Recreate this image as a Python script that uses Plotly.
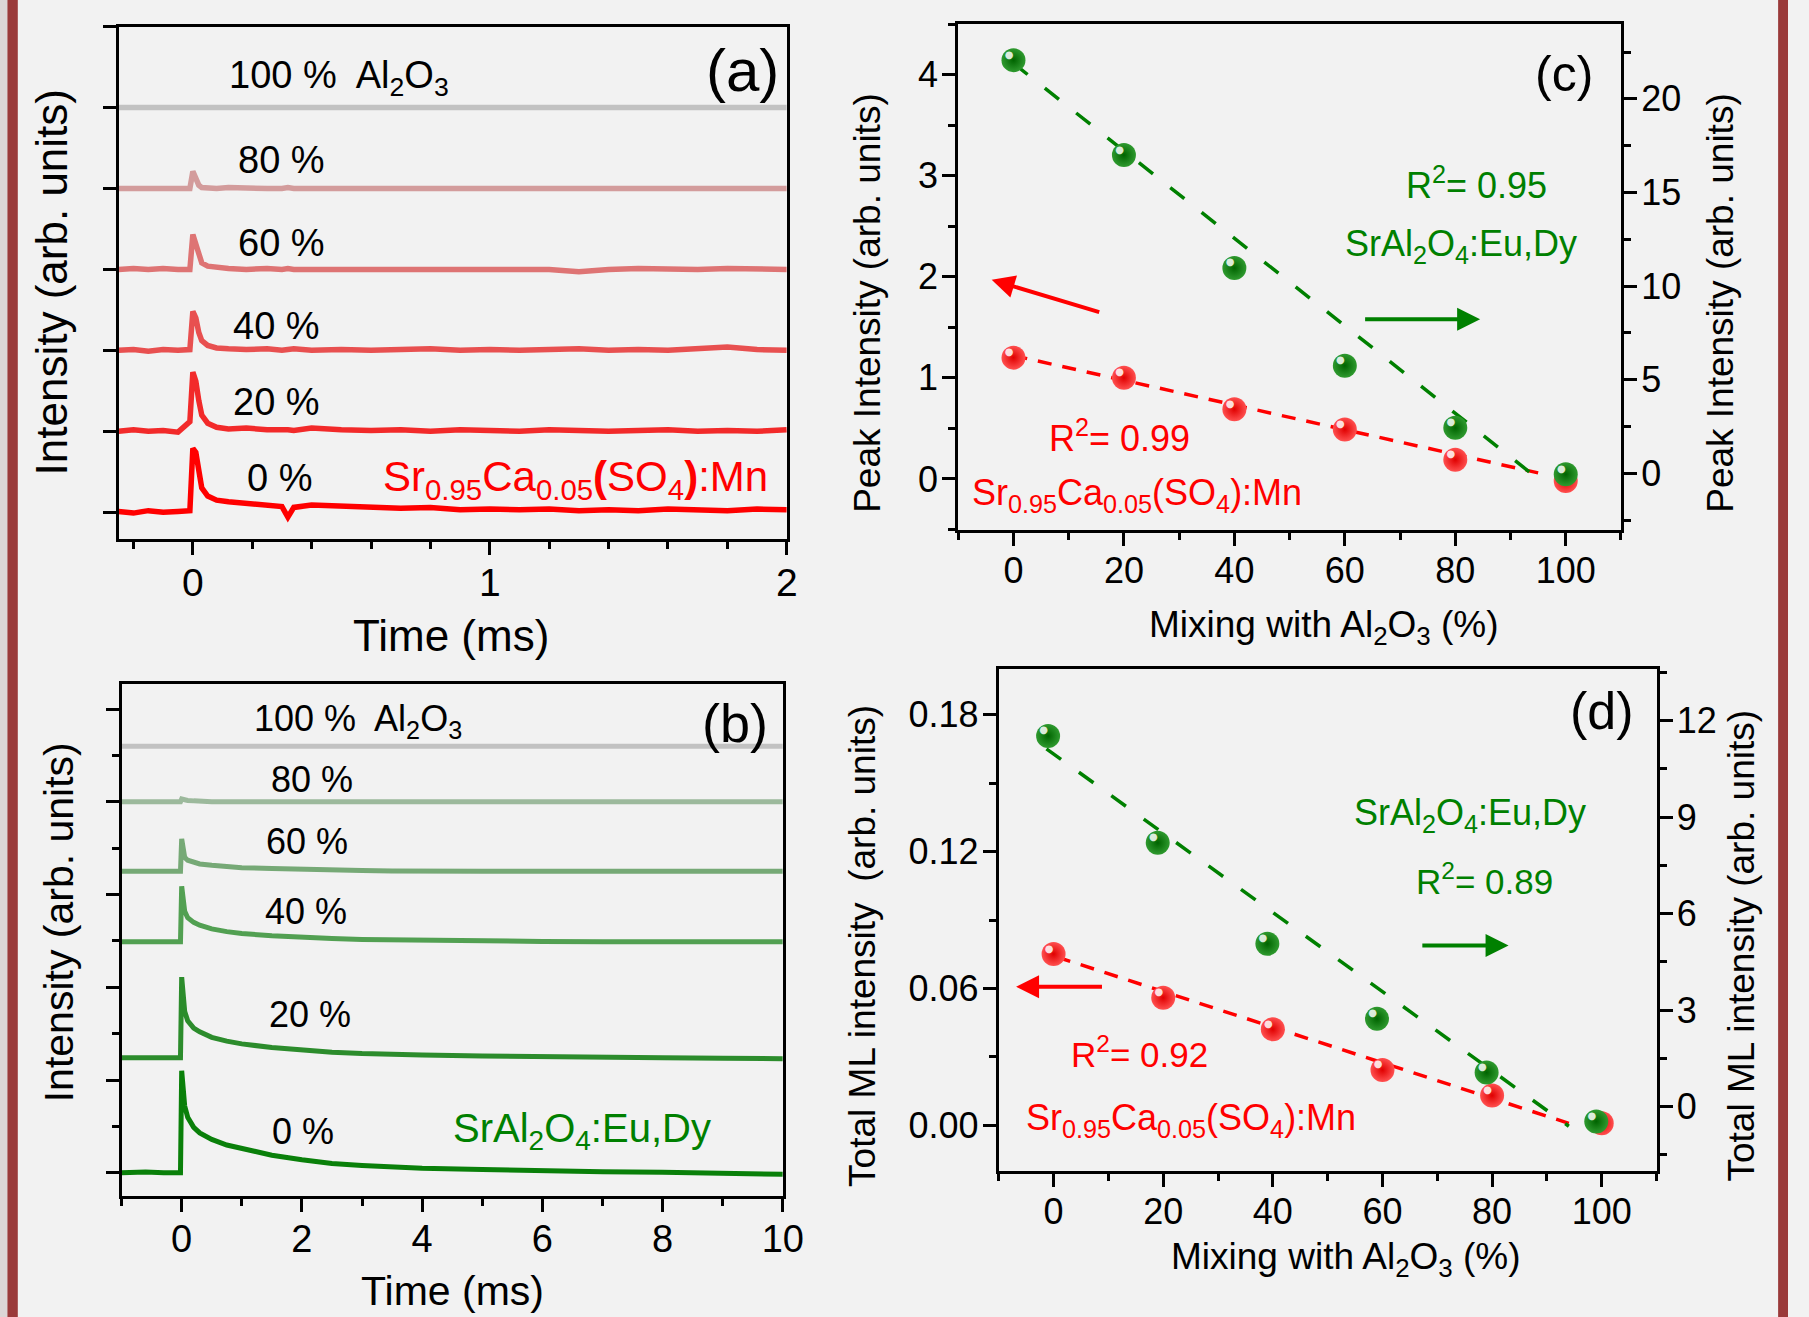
import plotly.graph_objects as go

W, H = 1809, 1317
FONT = "Liberation Sans, Arial, Helvetica, sans-serif"
BG = "#f2f2f2"

# ---------------- panel (a): Sr0.95Ca0.05(SO4):Mn time traces ----------------
a_time = [-0.25, -0.2, -0.15, -0.1, -0.05, -0.01, 0.0, 0.01, 0.02, 0.03, 0.05, 0.08,
          0.12, 0.18, 0.25, 0.3, 0.32, 0.34, 0.4, 0.5, 0.6, 0.7, 0.8, 0.9, 1.0, 1.1,
          1.2, 1.3, 1.4, 1.5, 1.6, 1.7, 1.8, 1.9, 2.0]
a_names = ["0 %", "20 %", "40 %", "60 %", "80 %", "100 %\u00a0 Al<sub>2</sub>O<sub>3</sub>"]
a_offsets = [0, 1, 2, 3, 4, 5]
a_0 = [0.01, -0.01, 0.02, 0.0, 0.01, 0.02, 0.79, 0.74, 0.52, 0.3, 0.2, 0.15, 0.13, 0.11,
       0.1, 0.07, -0.06, 0.06, 0.09, 0.08, 0.06, 0.05, 0.06, 0.03, 0.04, 0.03, 0.04, 0.02,
       0.03, 0.02, 0.04, 0.03, 0.02, 0.04, 0.03]
a_20 = [0.0, 0.02, 0.0, 0.01, -0.01, 0.12, 0.73, 0.62, 0.38, 0.2, 0.1, 0.05, 0.03, 0.04,
        0.02, 0.03, 0.02, 0.01, 0.04, 0.02, 0.01, 0.02, 0.0, 0.02, 0.01, 0.0, 0.02, 0.01,
        0.0, 0.01, 0.02, 0.0, 0.01, 0.0, 0.02]
a_40 = [0.0, 0.01, -0.01, 0.01, 0.0, 0.01, 0.48, 0.4, 0.22, 0.12, 0.06, 0.03, 0.02, 0.01,
        0.02, 0.0, 0.01, 0.02, 0.0, 0.01, 0.0, 0.01, 0.02, 0.0, 0.01, 0.0, 0.01, 0.02, 0.0,
        0.01, 0.0, 0.02, 0.04, 0.01, 0.0]
a_60 = [0.0, 0.01, 0.0, 0.01, 0.0, 0.0, 0.43, 0.3, 0.15, 0.08, 0.04, 0.02, 0.01, 0.0, 0.01,
        0.0, 0.01, 0.0, 0.0, 0.01, 0.0, 0.01, 0.0, 0.0, 0.01, 0.0, 0.0, -0.03, 0.0, 0.01,
        0.0, 0.0, 0.01, 0.0, 0.0]
a_80 = [0.0, 0.0, 0.01, 0.0, 0.0, 0.0, 0.21, 0.12, 0.04, 0.01, 0.0, 0.0, 0.01, 0.0, 0.0,
        0.0, 0.01, 0.0, 0.0, 0.0, 0.01, 0.0, 0.0, 0.0, 0.0, 0.0, 0.01, 0.0, 0.0, 0.0, 0.0,
        0.0, 0.0, 0.0, 0.0]
a_100 = [0.0, 0.0, 0.0, 0.01, 0.0, 0.0, 0.0, 0.0, 0.0, 0.0, 0.0, 0.0, 0.0, 0.0, 0.0, 0.0,
         0.0, 0.0, 0.0, 0.0, 0.0, 0.01, 0.0, 0.0, 0.0, 0.0, 0.0, 0.0, 0.0, 0.0, 0.0, 0.0,
         0.0, 0.0, 0.0]
a_curves = [a_0, a_20, a_40, a_60, a_80, a_100]
a_colors = ["#ff0000", "#f22a2a", "#e85050", "#de7474", "#d39c9c", "#c2c2c2"]

# ---------------- panel (b): SrAl2O4:Eu,Dy time traces ----------------
b_time = [-1.0, -0.6, -0.3, -0.02, 0.0, 0.05, 0.1, 0.2, 0.3, 0.5, 0.75, 1.0, 1.5, 2.0,
          2.5, 3.0, 3.5, 4.0, 5.0, 6.0, 7.0, 8.0, 9.0, 10.0]
b_names = ["0 %", "20 %", "40 %", "60 %", "80 %", "100 %\u00a0 Al<sub>2</sub>O<sub>3</sub>"]
b_offsets = [0, 1.24, 2.49, 3.25, 4.0, 4.6]
b_0 = [0.0, 0.01, 0.0, 0.0, 1.10, 0.72, 0.60, 0.49, 0.43, 0.36, 0.30, 0.26, 0.19, 0.14,
       0.10, 0.08, 0.065, 0.05, 0.035, 0.02, 0.012, 0.005, 0.0, -0.015]
b_20 = [0.0, 0.0, 0.01, 0.0, 0.87, 0.5, 0.4, 0.32, 0.28, 0.22, 0.18, 0.15, 0.11, 0.08,
        0.06, 0.045, 0.035, 0.03, 0.02, 0.01, 0.005, 0.0, -0.005, -0.01]
b_40 = [0.0, 0.0, 0.0, 0.0, 0.60, 0.33, 0.26, 0.21, 0.18, 0.14, 0.11, 0.09, 0.065, 0.045,
        0.035, 0.025, 0.02, 0.015, 0.01, 0.005, 0.0, 0.0, 0.0, 0.0]
b_60 = [0.0, 0.0, 0.0, 0.0, 0.35, 0.15, 0.12, 0.10, 0.08, 0.065, 0.05, 0.04, 0.03, 0.02,
        0.015, 0.01, 0.005, 0.0, 0.0, 0.0, 0.0, 0.0, 0.0, 0.0]
b_80 = [0.0, 0.0, 0.0, 0.0, 0.03, 0.02, 0.015, 0.01, 0.005, 0.0, 0.0, 0.0, 0.0, 0.0, 0.0,
        0.0, 0.0, 0.0, 0.0, 0.0, 0.0, 0.0, 0.0, 0.0]
b_100 = [0.0, 0.0, 0.0, 0.0, 0.0, 0.0, 0.0, 0.0, 0.0, 0.0, 0.0, 0.0, 0.0, 0.0, 0.0, 0.0,
         0.0, 0.0, 0.0, 0.0, 0.0, 0.0, 0.0, 0.0]
b_curves = [b_0, b_20, b_40, b_60, b_80, b_100]
b_colors = ["#0a800a", "#2c8c2c", "#52a052", "#76a976", "#9cb99c", "#c2c2c2"]

# ---------------- panel (c): peak intensity ----------------
c_red_x = [0, 20, 40, 60, 80, 100]
c_red_y = [1.2, 1.0, 0.69, 0.49, 0.19, -0.02]          # left axis
c_green_x = [0, 20, 40, 60, 80, 100]
c_green_y = [22.07, 17.0, 10.97, 5.75, 2.43, -0.05]    # right axis
c_red_fit_x = [0, 95]
c_red_fit_y = [1.22, 0.06]
c_green_fit_x = [0, 95]
c_green_fit_y = [21.9, -0.3]

# ---------------- panel (d): total ML intensity ----------------
d_red_x = [0, 20, 40, 60, 80, 100]
d_red_y = [0.0751, 0.0559, 0.0421, 0.0243, 0.0131, 0.0009]   # left axis
d_green_x = [-1, 19, 39, 59, 79, 99]
d_green_y = [11.52, 8.20, 5.06, 2.73, 1.06, -0.46]          # right axis
d_red_fit_x = [0.6, 94]
d_red_fit_y = [0.0738, 0.0009]
d_green_fit_x = [-1.3, 94]
d_green_fit_y = [11.12, -0.61]

# arrows pointing to the matching axis: [tail, head]
c_red_arrow_x = [15.8, -3.95]
c_red_arrow_y = [1.645, 1.97]
c_green_arrow_x = [63.4, 84.5]
c_green_arrow_y = [1.58, 1.58]
d_red_arrow_x = [9.1, -6.85]
d_red_arrow_y = [0.0608, 0.0608]
d_green_arrow_x = [67.0, 83.0]
d_green_arrow_y = [0.0788, 0.0788]

RED = "#ff0000"
GREEN = "#008000"

fig = go.Figure()

# panel (a) traces
for name, off, ys, col in zip(a_names, a_offsets, a_curves, a_colors):
    fig.add_trace(go.Scatter(x=a_time, y=[v + off for v in ys], mode="lines",
                             line=dict(color=col, width=5.5), xaxis="x", yaxis="y",
                             name=name, showlegend=False))
# panel (b) traces
for name, off, ys, col in zip(b_names, b_offsets, b_curves, b_colors):
    fig.add_trace(go.Scatter(x=b_time, y=[v + off for v in ys], mode="lines",
                             line=dict(color=col, width=5), xaxis="x2", yaxis="y2",
                             name=name, showlegend=False))


def fit(x, y, xa, ya, col, dash):
    fig.add_trace(go.Scatter(x=x, y=y, mode="lines", xaxis=xa, yaxis=ya, showlegend=False,
                             line=dict(color=col, width=3.5, dash=dash)))


def balls(x, y, xa, ya, center, edge):
    fig.add_trace(go.Scatter(x=x, y=y, mode="markers", xaxis=xa, yaxis=ya, showlegend=False,
                             marker=dict(size=24, color=center,
                                         gradient=dict(type="radial", color=edge),
                                         line=dict(width=0))))
    fig.add_trace(go.Scatter(x=x, y=y, mode="text", xaxis=xa, yaxis=ya, showlegend=False,
                             text=["\u25cf"] * len(x), textposition="top left",
                             textfont=dict(size=10, color="rgba(255,255,255,0.85)",
                                           family="DejaVu Sans")))


fit(c_red_fit_x, c_red_fit_y, "x3", "y3", RED, "14px,11px")
fit(c_green_fit_x, c_green_fit_y, "x3", "y4", GREEN, "18px,22px")
balls(c_red_x, c_red_y, "x3", "y3", "#ff5050", "#e00000")
balls(c_green_x, c_green_y, "x3", "y4", "#2f9a2f", "#006400")

fit(d_red_fit_x, d_red_fit_y, "x4", "y5", RED, "14px,11px")
fit(d_green_fit_x, d_green_fit_y, "x4", "y6", GREEN, "18px,22px")
balls(d_red_x, d_red_y, "x4", "y5", "#ff5050", "#e00000")
balls(d_green_x, d_green_y, "x4", "y6", "#2f9a2f", "#006400")


def px_x(v):
    return v / W


def px_y(v):
    return 1 - v / H


def axis(domain, rng, anchor, dtick=None, minor=None, labels=True, fs=36, side=None,
         overlaying=None, tick0=0, tickformat=None, mirror=True, ticklen=13, standoff=0):
    d = dict(range=rng, anchor=anchor, showline=True, linecolor="black", linewidth=3,
             mirror=mirror, ticks="outside", ticklen=ticklen, tickwidth=3, tickcolor="black",
             showgrid=False, zeroline=False, showticklabels=labels,
             tickfont=dict(family=FONT, size=fs, color="black"), tick0=tick0,
             ticklabelstandoff=standoff)
    if domain is not None:
        d["domain"] = domain
    if dtick is not None:
        d["dtick"] = dtick
    if minor is not None:
        d["minor"] = dict(dtick=minor, tick0=tick0, ticks="outside", ticklen=7,
                          tickwidth=3, tickcolor="black", showgrid=False)
    if side:
        d["side"] = side
    if overlaying:
        d["overlaying"] = overlaying
    if tickformat:
        d["tickformat"] = tickformat
    return d


layout = dict(
    height=H, autosize=True, paper_bgcolor=BG, plot_bgcolor=BG,
    margin=dict(l=0, r=0, t=0, b=0), showlegend=False,
    font=dict(family=FONT, color="black"),
    xaxis=axis([px_x(120), px_x(796)], [-0.25, 2.0], "y", dtick=1, minor=0.2, fs=39,
               standoff=-6),
    yaxis=axis([px_y(539), px_y(26.5)], [-0.33, 6.0], "x", dtick=1, labels=False),
    xaxis2=axis([px_x(123), px_x(792)], [-1, 10], "y2", dtick=2, minor=1, fs=38,
                standoff=-6),
    yaxis2=axis([px_y(1196), px_y(684)], [-0.25, 5.27], "x2", dtick=1, minor=0.5, labels=False),
    xaxis3=axis([px_x(969.5), px_x(1640)], [-10, 110], "y3", dtick=20, minor=10, fs=36,
                standoff=-6),
    yaxis3=axis([px_y(529.5), px_y(24)], [-0.5, 4.5], "x3", dtick=1, minor=0.5, fs=36,
                mirror=False, standoff=-3),
    yaxis4=axis(None, [-3, 24], "x3", dtick=5, minor=2.5, fs=36, side="right",
                overlaying="y3", mirror=False, standoff=-3),
    xaxis4=axis([px_x(1010.5), px_x(1676)], [-10, 110], "y5", dtick=20, minor=10, fs=36,
                standoff=-6),
    yaxis5=axis([px_y(1171), px_y(669)], [-0.02, 0.2], "x4", dtick=0.06, minor=0.03, fs=36,
                tickformat=".2f", mirror=False, standoff=-3),
    yaxis6=axis(None, [-2, 13.6], "x4", dtick=3, minor=1.5, fs=36, side="right",
                overlaying="y5", mirror=False, standoff=-3),
)
fig.update_layout(**layout)

ann = []


def txt(text, x, y, xref, yref, size, color="black", angle=0, xanchor="center",
        yanchor="middle"):
    ann.append(dict(text=text, x=x, y=y, xref=xref, yref=yref, showarrow=False,
                    font=dict(family=FONT, size=size, color=color), textangle=angle,
                    xanchor=xanchor, yanchor=yanchor))


def arrow(xs, ys, xref, yref, color):
    ann.append(dict(x=xs[1], y=ys[1], ax=xs[0], ay=ys[0], xref=xref, yref=yref,
                    axref=xref, ayref=yref, showarrow=True, arrowhead=2, arrowsize=1.15,
                    arrowwidth=4, arrowcolor=color, text=""))


arrow(c_red_arrow_x, c_red_arrow_y, "x3", "y3", RED)
arrow(c_green_arrow_x, c_green_arrow_y, "x3", "y3", GREEN)
arrow(d_red_arrow_x, d_red_arrow_y, "x4", "y5", RED)
arrow(d_green_arrow_x, d_green_arrow_y, "x4", "y5", GREEN)

# panel (a) labels
a_label_pos = [(0.293, 0.42), (0.283, 1.36), (0.283, 2.30), (0.30, 3.33), (0.30, 4.35),
               (0.493, 5.37)]
for name, (lx, ly) in zip(a_names, a_label_pos):
    txt(name, lx, ly, "x", "y", 38)
txt("Sr<sub>0.95</sub>Ca<sub>0.05</sub><b>(</b>SO<sub>4</sub><b>)</b>:Mn", 1.29, 0.40,
    "x", "y", 42, RED)
txt("(a)", 1.85, 5.46, "x", "y", 60)

# panel (b) labels
b_label_pos = [(2.02, 0.45), (2.13, 1.71), (2.07, 2.82), (2.08, 3.57), (2.16, 4.24),
               (2.94, 4.87)]
for name, (lx, ly) in zip(b_names, b_label_pos):
    txt(name, lx, ly, "x2", "y2", 36)
txt("SrAl<sub>2</sub>O<sub>4</sub>:Eu,Dy", 6.66, 0.45, "x2", "y2", 40, GREEN)
txt("(b)", 9.21, 4.85, "x2", "y2", 54)

# panel (c) labels
txt("(c)", 99.6, 4.01, "x3", "y3", 50)
txt("R<sup>2</sup>= 0.95", 83.9, 2.93, "x3", "y3", 36, GREEN)
txt("SrAl<sub>2</sub>O<sub>4</sub>:Eu,Dy", 81.0, 2.30, "x3", "y3", 36, GREEN)
txt("R<sup>2</sup>= 0.99", 19.2, 0.42, "x3", "y3", 36, RED)
txt("Sr<sub>0.95</sub>Ca<sub>0.05</sub>(SO<sub>4</sub>):Mn", 22.3, -0.16, "x3", "y3", 36, RED)

# panel (d) labels
txt("(d)", 100, 0.1816, "x4", "y5", 52)
txt("SrAl<sub>2</sub>O<sub>4</sub>:Eu,Dy", 75.9, 0.136, "x4", "y5", 36, GREEN)
txt("R<sup>2</sup>= 0.89", 78.7, 0.108, "x4", "y5", 35, GREEN)
txt("R<sup>2</sup>= 0.92", 15.6, 0.032, "x4", "y5", 35, RED)
txt("Sr<sub>0.95</sub>Ca<sub>0.05</sub>(SO<sub>4</sub>):Mn", 25.0, 0.0025, "x4", "y5", 36, RED)

# axis titles
txt("Intensity (arb. units)", px_x(52), px_y(282), "paper", "paper", 44, angle=-90)
txt("Time (ms)", px_x(456), px_y(635.5), "paper", "paper", 44)
txt("Intensity (arb. units)", px_x(60), px_y(922), "paper", "paper", 41, angle=-90)
txt("Time (ms)", px_x(457.6), px_y(1291), "paper", "paper", 41)
txt("Peak Intensity (arb. units)", px_x(877), px_y(303), "paper", "paper", 37, angle=-90)
txt("Peak Intensity (arb. units)", px_x(1740), px_y(303), "paper", "paper", 37, angle=-90)
txt("Mixing with Al<sub>2</sub>O<sub>3</sub> (%)", px_x(1340), px_y(627), "paper", "paper", 37)
txt("Total ML intensity\u00a0 (arb. units)", px_x(872), px_y(946), "paper", "paper", 37,
    angle=-90)
txt("Total ML intensity (arb. units)", px_x(1761), px_y(946), "paper", "paper", 37, angle=-90)
txt("Mixing with Al<sub>2</sub>O<sub>3</sub> (%)", px_x(1362), px_y(1259), "paper", "paper", 37)

fig.update_layout(annotations=ann)

# decorative frame bars
fig.update_layout(shapes=[
    dict(type="rect", xref="paper", yref="paper", x0=0, x1=px_x(7.5), y0=0, y1=1,
         fillcolor="#dcd6d6", line=dict(width=0), layer="below"),
    dict(type="rect", xref="paper", yref="paper", x0=px_x(7.5), x1=px_x(18), y0=0, y1=1,
         fillcolor="#9a3a3a", line=dict(width=0), layer="below"),
    dict(type="rect", xref="paper", yref="paper", x0=px_x(1799), x1=1, y0=0, y1=1,
         fillcolor="#9a3a3a", line=dict(width=0), layer="below"),
])

fig.write_html("out.html", config={"displayModeBar": False, "responsive": True},
               default_width="100%", default_height="1317px",
               post_script="document.documentElement.style.margin='0';"
                           "document.documentElement.style.overflow='hidden';"
                           "document.documentElement.style.background='" + BG + "';"
                           "document.body.style.margin='0';"
                           "document.body.style.padding='0';"
                           "document.body.style.overflow='hidden';"
                           "document.body.style.background='" + BG + "';"
                           "Plotly.Plots.resize(document.getElementById('{plot_id}'));")
